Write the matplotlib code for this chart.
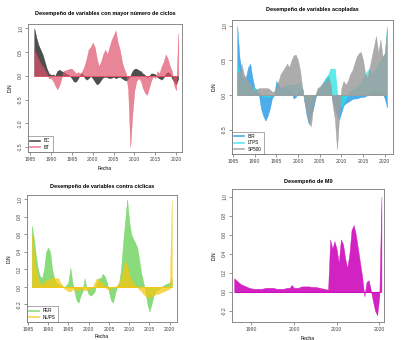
import numpy as np
import matplotlib
matplotlib.use('Agg')
from matplotlib import pyplot as plt
from matplotlib.lines import Line2D

plt.rcParams['font.family'] = ['Liberation Sans', 'DejaVu Sans']

# semiannual observations, 1986.0 .. 2020.5
fecha = 1986 + 0.5 * np.arange(70)

bc = [1.0, 0.8, 0.65, 0.55, 0.45, 0.3, 0.15, 0.05, 0.02, 0.03,
      0.0, 0.1, 0.13, 0.1, 0.08, 0.05, 0.03, 0.0, -0.05, -0.12,
      -0.12, -0.05, 0.03, 0.05, -0.03, -0.08, -0.05, 0.0, -0.05, -0.12,
      -0.18, -0.15, -0.08, -0.03, -0.02, -0.03, -0.05, -0.04, -0.02, -0.05,
      -0.03, -0.02, -0.05, -0.08, -0.1, -0.05, 0.0, 0.1, 0.15, 0.15,
      0.12, 0.1, 0.05, 0.02, -0.03, 0.0, 0.05, 0.05, 0.03, -0.03,
      -0.05, -0.08, -0.03, 0.05, 0.08, 0.05, -0.05, -0.12, -0.18, -0.05]
bt = [0.55, 0.45, 0.35, 0.25, 0.2, 0.12, 0.05, -0.05, -0.05, -0.1,
      -0.2, -0.28, -0.2, -0.05, 0.1, 0.12, 0.13, 0.15, 0.15, 0.1,
      0.05, 0.08, 0.05, 0.1, 0.2, 0.35, 0.55, 0.6, 0.7, 0.6,
      0.35, 0.2, 0.3, 0.45, 0.55, 0.45, 0.6, 0.75, 0.85, 0.95,
      0.7, 0.55, 0.3, 0.15, 0.05, -0.3, -1.5, -0.8, -0.3, -0.1,
      -0.05, -0.1, -0.25, -0.35, -0.4, -0.25, -0.1, 0.0, -0.05, 0.1,
      0.05, 0.2, 0.3, 0.45, 0.35, 0.2, 0.1, -0.2, -0.3, 0.9]

ibr = [1.0, 0.55, 0.35, 0.2, 0.25, 0.4, 0.45, 0.25, 0.1, 0.08,
       0.0, -0.2, -0.3, -0.37, -0.3, -0.2, -0.05, 0.0, 0.2, 0.15,
       0.1, 0.1, 0.12, 0.1, 0.08, 0.05, -0.05, -0.03, 0.05, 0.08,
       0.1, -0.1, -0.3, -0.42, -0.3, -0.2, -0.05, 0.05, 0.1, 0.15,
       0.2, 0.25, 0.28, 0.15, -0.1, -0.2, -0.3, -0.35, -0.25, -0.15,
       -0.12, -0.1, -0.08, -0.06, -0.05, -0.05, -0.04, -0.03, -0.03, -0.02,
       0.0, 0.02, 0.03, 0.05, 0.05, 0.05, 0.03, 0.02, -0.05, -0.18]
ltps = [0.45, 0.35, 0.28, 0.25, 0.22, 0.2, 0.15, 0.12, 0.1, 0.08,
        0.05, 0.0, -0.02, -0.03, -0.03, -0.02, -0.01, 0.0, 0.05, 0.08,
        0.1, 0.12, 0.13, 0.15, 0.15, 0.15, 0.15, 0.16, 0.17, 0.16,
        0.08, -0.05, -0.1, -0.15, -0.12, -0.05, 0.0, 0.05, 0.1, 0.15,
        0.2, 0.25, 0.3, 0.38, 0.38, 0.38, 0.05, -0.12, -0.18, -0.12,
        -0.05, 0.0, 0.05, 0.08, 0.1, 0.12, 0.15, 0.2, 0.25, 0.3,
        0.35, 0.38, 0.3, 0.35, 0.4, 0.45, 0.5, 0.55, 0.6, 1.0]
sp500 = [0.35, 0.28, 0.45, 0.3, 0.25, 0.2, 0.15, 0.12, 0.05, 0.08,
         0.1, 0.1, 0.1, 0.1, 0.1, 0.08, 0.05, 0.05, 0.1, 0.2,
         0.3, 0.35, 0.4, 0.45, 0.4, 0.5, 0.57, 0.58, 0.5, 0.35,
         0.1, -0.1, -0.25, -0.4, -0.45, -0.15, 0.0, 0.1, 0.12, 0.15,
         0.18, 0.2, 0.25, 0.15, -0.15, -0.35, -0.78, -0.3, 0.1, 0.2,
         0.15, 0.2, 0.3, 0.35, 0.45, 0.55, 0.6, 0.62, 0.5, 0.3,
         0.25, 0.4, 0.55, 0.7, 0.85, 0.6, 0.8, 0.55, 0.6, 0.95]

per = [0.7, 0.55, 0.35, 0.2, 0.12, 0.1, 0.2, 0.4, 0.45, 0.4,
       0.2, 0.1, 0.05, 0.03, 0.02, 0.01, 0.0, 0.02, 0.05, 0.22,
       0.05, -0.05, -0.15, -0.18, -0.1, -0.05, 0.1, -0.02, -0.08, -0.1,
       -0.08, -0.05, 0.05, 0.1, 0.1, 0.15, 0.12, 0.05, -0.05, -0.15,
       -0.18, -0.08, 0.0, 0.05, 0.2, 0.5, 0.75, 1.0, 0.75, 0.6,
       0.55, 0.5, 0.45, 0.3, 0.15, 0.05, -0.05, -0.2, -0.28, -0.2,
       -0.1, -0.05, -0.03, -0.02, 0.0, 0.02, 0.03, 0.04, 0.05, 0.1]
nups = [0.6, 0.4, 0.2, 0.1, 0.05, 0.03, 0.05, 0.08, 0.08, 0.1,
        0.1, 0.1, 0.1, 0.1, 0.05, 0.02, -0.02, -0.03, -0.05, -0.05,
        -0.03, -0.02, -0.05, -0.03, -0.02, -0.03, -0.04, -0.03, -0.03, -0.02,
        0.0, 0.05, 0.1, 0.08, 0.05, 0.05, 0.0, -0.02, -0.03, -0.02,
        0.0, 0.0, 0.02, 0.05, 0.1, 0.2, 0.3, 0.25, 0.15, 0.08,
        0.05, 0.02, 0.0, -0.03, -0.05, -0.08, -0.1, -0.12, -0.12, -0.1,
        -0.1, -0.08, -0.08, -0.07, -0.06, -0.05, -0.04, -0.03, -0.02, 1.0]

m0 = [0.14, 0.12, 0.1, 0.08, 0.07, 0.06, 0.05, 0.04, 0.035, 0.03,
      0.03, 0.03, 0.03, 0.03, 0.035, 0.04, 0.04, 0.04, 0.04, 0.035,
      0.03, 0.03, 0.03, 0.03, 0.035, 0.04, 0.04, 0.07, 0.04, 0.04,
      0.04, 0.05, 0.055, 0.055, 0.055, 0.055, 0.05, 0.05, 0.05, 0.045,
      0.04, 0.035, 0.03, 0.025, 0.02, 0.55, 0.45, 0.53, 0.45, 0.3,
      0.55, 0.5, 0.35, 0.25, 0.4, 0.65, 0.7, 0.6, 0.45, 0.3,
      0.15, -0.05, 0.1, 0.12, 0.02, -0.1, -0.2, -0.25, -0.05, 1.0]

W, H = 403, 340
fig = plt.figure(figsize=(W / 100, H / 100), dpi=100)
fs = 3.6


def panel(box, title, title_y, series, ylim, xlim, xticks, yticks,
          fecha_y=None, legend=True):
    l, t, r, b = box
    ax = fig.add_axes([l / W, 1 - b / H, (r - l) / W, (b - t) / H])
    for vals, col, a, name in series:
        ax.fill_between(fecha, 0, vals, color=col, alpha=a, linewidth=0.3)
    ax.hlines(0, fecha[0], fecha[-1], color=series[-1][1], lw=0.7)
    ax.set_xlim(*xlim)
    ax.set_ylim(*ylim)
    ax.set_xticks(xticks)
    ax.set_xticklabels([str(x) for x in xticks], fontsize=fs)
    ax.set_yticks(yticks)
    ax.set_yticklabels(['%.1f' % y for y in yticks], fontsize=fs, rotation=90,
                       va='center')
    ax.tick_params(length=2, width=0.4, pad=1.5, colors='#444444')
    for s in ax.spines.values():
        s.set_color('#777777')
        s.set_linewidth(0.6)
    fig.text((l + r) / 2 / W, 1 - title_y / H, title, fontsize=4, weight='bold',
             ha='center', va='center')
    fig.text((l - 18) / W, 1 - (t + b) / 2 / H, 'D.N', fontsize=fs, rotation=90,
             ha='center', va='center')
    if fecha_y:
        fig.text((l + r) / 2 / W, 1 - fecha_y / H, 'Fecha', fontsize=fs,
                 ha='center', va='center')
    if legend:
        handles = [Line2D([], [], color=c, alpha=a, lw=1.2) for _, c, a, _ in series]
        leg = ax.legend(handles, [n for *_, n in series], loc='lower left',
                        fontsize=3.3, frameon=True, fancybox=False,
                        borderaxespad=0, handlelength=2.2, borderpad=0.5,
                        labelspacing=0.3, handletextpad=0.8)
        leg.get_frame().set_edgecolor('#444444')
        leg.get_frame().set_linewidth(0.4)
    return ax


yrs = [1985, 1990, 1995, 2000, 2005, 2010, 2015, 2020]

panel((28, 24, 182, 152), 'Desempeño de variables con mayor número de ciclos', 13,
      [(bc, '#222222', 0.8, 'BC'), (bt, '#DF536B', 0.7, 'BT')],
      (-1.6, 1.09), (1984.5, 2021.4), yrs,
      [-1.5, -1.0, -0.5, 0.0, 0.5, 1.0], fecha_y=168)

panel((232, 20, 393, 154), 'Desempeño de variables acopladas', 10,
      [(ibr, '#2297E6', 0.8, 'IBR'), (ltps, '#28E2E5', 0.75, 'LTPS'),
       (sp500, '#9E9E9E', 0.85, 'SP500')],
      (-0.85, 1.08), (1984.8, 2021.9), yrs, [-0.5, 0.0, 0.5, 1.0])

panel((27, 195, 177, 322), 'Desempeño de variables contra cíclicas', 186,
      [(per, '#61D04F', 0.75, 'PER'), (nups, '#F5C710', 0.75, 'NUPS')],
      (-0.4, 1.05), (1984.8, 2021.8), yrs,
      [-0.2, 0.0, 0.2, 0.4, 0.6, 0.8, 1.0], fecha_y=337)

panel((232, 189, 384, 322), 'Desempeño de M0', 182,
      [(m0, '#CD0BBC', 0.9, 'M0')],
      (-0.32, 1.08), (1985.5, 2021.1), [1990, 2000, 2010, 2020],
      [-0.2, 0.0, 0.2, 0.4, 0.6, 0.8, 1.0], fecha_y=338, legend=False)

fig.savefig('out.png', dpi=100)
